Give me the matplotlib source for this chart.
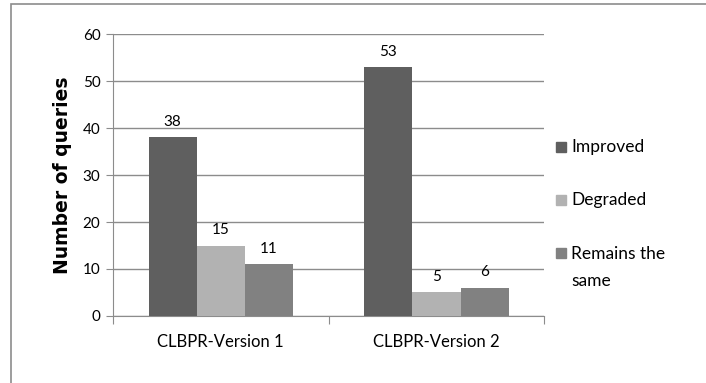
import matplotlib.pyplot as plt
from matplotlib.patches import Rectangle
import numpy as np

categories = ['CLBPR-Version 1', 'CLBPR-Version 2']
series = ['Improved', 'Degraded', 'Remains the\nsame']
improved = [38, 53]
degraded = [15, 5]
remains = [11, 6]
colors = ['#5f5f5f', '#b2b2b2', '#818181']

plt.rcParams['font.family'] = ['Lato', 'DejaVu Sans']

fig = plt.figure(figsize=(7.06, 3.83), dpi=100)
ax = fig.add_axes([0.160, 0.175, 0.611, 0.736])

x = np.arange(len(categories))
w = 0.223
for i, (vals, c) in enumerate(zip([improved, degraded, remains], colors)):
    bars = ax.bar(x + (i - 1) * w, vals, w, color=c, zorder=3)
    for b, v in zip(bars, vals):
        ax.annotate(str(v), (b.get_x() + b.get_width() / 2, v), xytext=(0, 6),
                    textcoords='offset points', ha='center', va='bottom', fontsize=11)

ax.set_xlim(-0.5, 1.5)
ax.set_ylim(0, 60)
ax.set_yticks(range(0, 61, 10))
ax.yaxis.grid(True, color='#8c8c8c', linewidth=1, zorder=0)
ax.set_xticks([-0.5, 0.5, 1.5])
ax.set_xticklabels([])
ax.set_xticks(x, minor=True)
ax.set_xticklabels(categories, minor=True, fontsize=12)
ax.tick_params(axis='x', which='major', length=6, color='#8c8c8c', direction='out')
ax.tick_params(axis='x', which='minor', length=0, pad=13)
ax.tick_params(axis='y', length=5, color='#8c8c8c', labelsize=11, pad=4)
for s in ['top', 'right']:
    ax.spines[s].set_visible(False)
for s in ['left', 'bottom']:
    ax.spines[s].set_color('#8c8c8c')
ax.set_ylabel('Number of queries', fontsize=13.5, fontweight='bold', family='DejaVu Sans', labelpad=8)

# legend drawn by hand so the square sits by the first line
leg_y = [147, 200, 253]
for yy, c, lab in zip(leg_y, colors, series):
    fig.patches.append(Rectangle((556 / 706, 1 - (yy + 5) / 383), 10 / 706, 10 / 383,
                                 transform=fig.transFigure, color=c))
    fig.text(571 / 706, 1 - yy / 383, lab, fontsize=12.5, va='top' if '\n' in lab else 'center',
             ha='left', linespacing=1.85)
# fix the two-line label position
fig.texts[-1].set_position((571 / 706, 1 - (yy - 7) / 383))

# outer chart border
fig.patches.append(Rectangle((11 / 706, -0.1), 1.2, 1 - 4 / 383 + 0.1, transform=fig.transFigure,
                             fill=False, edgecolor='#8c8c8c', linewidth=1.2))

fig.savefig('out.png', dpi=100)
